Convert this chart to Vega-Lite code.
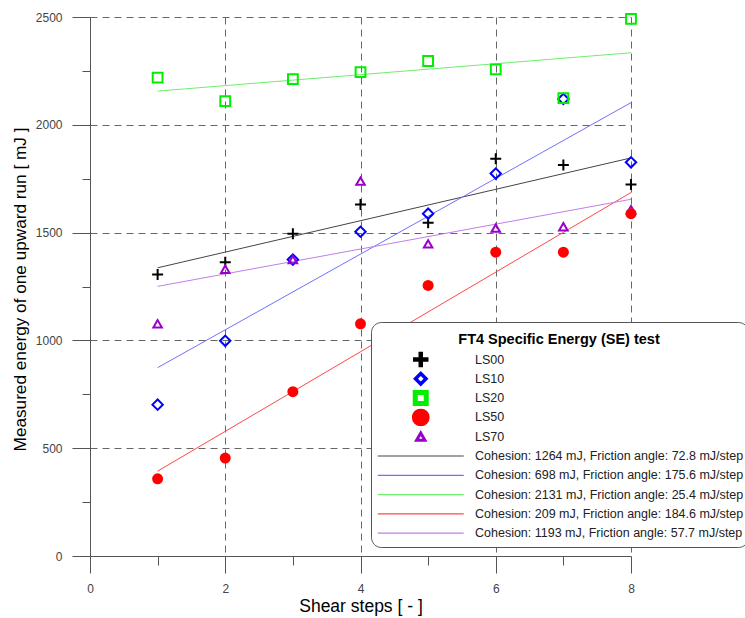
{
  "$schema": "https://vega.github.io/schema/vega-lite/v6.json",
  "width": 541,
  "height": 539,
  "autosize": {"type": "none"},
  "padding": {"left": 90, "top": 17, "right": 114, "bottom": 62},
  "background": "white",
  "config": {
    "view": {"stroke": null},
    "font": "Liberation Sans"
  },
  "datasets": {
    "points": [
      {"step": 1, "energy": 1306, "series": "LS00"},
      {"step": 2, "energy": 1363, "series": "LS00"},
      {"step": 3, "energy": 1495, "series": "LS00"},
      {"step": 4, "energy": 1630, "series": "LS00"},
      {"step": 5, "energy": 1546, "series": "LS00"},
      {"step": 6, "energy": 1843, "series": "LS00"},
      {"step": 7, "energy": 1814, "series": "LS00"},
      {"step": 8, "energy": 1723, "series": "LS00"},
      {"step": 1, "energy": 702, "series": "LS10"},
      {"step": 2, "energy": 998, "series": "LS10"},
      {"step": 3, "energy": 1375, "series": "LS10"},
      {"step": 4, "energy": 1504, "series": "LS10"},
      {"step": 5, "energy": 1588, "series": "LS10"},
      {"step": 6, "energy": 1774, "series": "LS10"},
      {"step": 7, "energy": 2120, "series": "LS10"},
      {"step": 8, "energy": 1826, "series": "LS10"},
      {"step": 1, "energy": 2219, "series": "LS20"},
      {"step": 2, "energy": 2110, "series": "LS20"},
      {"step": 3, "energy": 2212, "series": "LS20"},
      {"step": 4, "energy": 2244, "series": "LS20"},
      {"step": 5, "energy": 2296, "series": "LS20"},
      {"step": 6, "energy": 2257, "series": "LS20"},
      {"step": 7, "energy": 2124, "series": "LS20"},
      {"step": 8, "energy": 2491, "series": "LS20"},
      {"step": 1, "energy": 358, "series": "LS50"},
      {"step": 2, "energy": 454, "series": "LS50"},
      {"step": 3, "energy": 762, "series": "LS50"},
      {"step": 4, "energy": 1077, "series": "LS50"},
      {"step": 5, "energy": 1255, "series": "LS50"},
      {"step": 6, "energy": 1409, "series": "LS50"},
      {"step": 7, "energy": 1409, "series": "LS50"},
      {"step": 8, "energy": 1588, "series": "LS50"},
      {"step": 1, "energy": 1077, "series": "LS70"},
      {"step": 2, "energy": 1330, "series": "LS70"},
      {"step": 3, "energy": 1375, "series": "LS70"},
      {"step": 4, "energy": 1739, "series": "LS70"},
      {"step": 5, "energy": 1448, "series": "LS70"},
      {"step": 6, "energy": 1521, "series": "LS70"},
      {"step": 7, "energy": 1527, "series": "LS70"},
      {"step": 8, "energy": 1606, "series": "LS70"}
    ],
    "lines": [
      {"step": 1, "energy": 1336.8, "series": "Cohesion: 1264 mJ, Friction angle: 72.8 mJ/step"},
      {"step": 8, "energy": 1846.4, "series": "Cohesion: 1264 mJ, Friction angle: 72.8 mJ/step"},
      {"step": 1, "energy": 873.6, "series": "Cohesion: 698 mJ, Friction angle: 175.6 mJ/step"},
      {"step": 8, "energy": 2102.8, "series": "Cohesion: 698 mJ, Friction angle: 175.6 mJ/step"},
      {"step": 1, "energy": 2156.4, "series": "Cohesion: 2131 mJ, Friction angle: 25.4 mJ/step"},
      {"step": 8, "energy": 2334.2, "series": "Cohesion: 2131 mJ, Friction angle: 25.4 mJ/step"},
      {"step": 1, "energy": 393.6, "series": "Cohesion: 209 mJ, Friction angle: 184.6 mJ/step"},
      {"step": 8, "energy": 1685.8, "series": "Cohesion: 209 mJ, Friction angle: 184.6 mJ/step"},
      {"step": 1, "energy": 1250.7, "series": "Cohesion: 1193 mJ, Friction angle: 57.7 mJ/step"},
      {"step": 8, "energy": 1654.6, "series": "Cohesion: 1193 mJ, Friction angle: 57.7 mJ/step"}
    ]
  },
  "encoding": {
    "x": {
      "field": "step", "type": "quantitative",
      "scale": {"domain": [0, 8], "nice": false, "zero": false},
      "axis": {
        "title": "Shear steps [ - ]",
        "values": [0, 1, 2, 3, 4, 5, 6, 7, 8],
        "labelExpr": "datum.value % 2 === 0 ? datum.label : ''",
        "tickSize": {"condition": {"test": "datum.value % 2 === 0", "value": 17}, "value": 9},
        "grid": true,
        "gridDash": [7, 5],
        "gridColor": "#666666",
        "gridOpacity": {"condition": {"test": "datum.value % 2 === 0 && datum.value > 0", "value": 1}, "value": 0},
        "domainColor": "#555555",
        "tickColor": "#555555",
        "labelColor": "#444444",
        "labelFontSize": 12,
        "labelPadding": 10,
        "labelFlush": false,
        "titleFontSize": 17.5,
        "titleFontWeight": "normal",
        "titleColor": "#000000",
        "titleY": 55,
        "titleBaseline": "alphabetic"
      }
    },
    "y": {
      "field": "energy", "type": "quantitative",
      "scale": {"domain": [0, 2500], "nice": false},
      "axis": {
        "title": "Measured energy of one upward run [ mJ ]",
        "values": [0, 250, 500, 750, 1000, 1250, 1500, 1750, 2000, 2250, 2500],
        "labelExpr": "datum.value % 500 === 0 ? datum.label : ''",
        "format": "d",
        "tickSize": {"condition": {"test": "datum.value % 500 === 0", "value": 18}, "value": 8},
        "grid": true,
        "gridDash": [7, 5],
        "gridColor": "#666666",
        "gridOpacity": {"condition": {"test": "datum.value % 500 === 0 && datum.value > 0", "value": 1}, "value": 0},
        "domainColor": "#555555",
        "tickColor": "#555555",
        "labelColor": "#444444",
        "labelFontSize": 12,
        "labelPadding": 10,
        "labelFlush": false,
        "titleFontSize": 17.2,
        "titleFontWeight": "normal",
        "titleColor": "#000000",
        "titleX": -70,
        "titleY": 272,
        "titleAngle": 270,
        "titleAlign": "center",
        "titleBaseline": "middle"
      }
    }
  },
  "layer": [
    {
      "data": {"name": "lines"},
      "mark": {"type": "line", "strokeWidth": 1},
      "encoding": {
        "color": {
          "field": "series", "type": "nominal",
          "scale": {
            "domain": ["LS00", "LS10", "LS20", "LS50", "LS70",
              "Cohesion: 1264 mJ, Friction angle: 72.8 mJ/step",
              "Cohesion: 698 mJ, Friction angle: 175.6 mJ/step",
              "Cohesion: 2131 mJ, Friction angle: 25.4 mJ/step",
              "Cohesion: 209 mJ, Friction angle: 184.6 mJ/step",
              "Cohesion: 1193 mJ, Friction angle: 57.7 mJ/step"],
            "range": ["#000000", "#0000ff", "#00ee00", "#ff0000", "#9900cc",
              "#444444", "#7070ff", "#70ee70", "#ff4848", "#c07ee8"]
          },
          "legend": {
            "title": "FT4 Specific Energy (SE) test",
            "orient": "none",
            "legendX": 281,
            "legendY": 305,
            "titleFont": "Liberation Sans",
            "titleFontSize": 14.5,
            "titleFontWeight": "bold",
            "titleColor": "#000000",
            "titleAnchor": "middle",
            "titleLimit": 400,
            "titlePadding": 10,
            "labelFont": "Liberation Sans",
            "labelFontSize": 12.5,
            "labelColor": "#222222",
            "labelLimit": 400,
            "padding": 4,
            "fillColor": "#ffffff",
            "strokeColor": "#555555",
            "cornerRadius": 10,
            "symbolOffset": 39.5,
            "labelOffset": 48,
            "clipHeight": 18,
            "rowPadding": 1.3,
            "encode": {
              "title": {"update": {"dy": {"value": 7}}},
              "symbols": {
                "update": {
                  "size": {"signal": "datum.value === 'LS00' ? 240 : datum.value === 'LS10' ? 110 : datum.value === 'LS20' ? 121 : datum.value === 'LS50' ? 77 : datum.value === 'LS70' ? 70 : 7396"},
                  "strokeWidth": {"signal": "datum.value === 'LS00' ? 4.5 : datum.value === 'LS10' ? 3.5 : datum.value === 'LS20' ? 5 : datum.value === 'LS50' ? 9 : datum.value === 'LS70' ? 3 : 1.2"},
                  "fillOpacity": {"value": 0},
                  "strokeOpacity": {"value": 1},
                  "opacity": {"value": 1}
                }
              }
            }
          }
        }
      }
    },
    {
      "data": {"name": "points"},
      "transform": [{"filter": "datum.series !== 'LS50'"}],
      "mark": {"type": "point", "filled": false, "opacity": 1},
      "encoding": {
        "color": {"field": "series", "type": "nominal"},
        "shape": {
          "field": "series", "type": "nominal",
          "scale": {
            "domain": ["LS00", "LS10", "LS20", "LS50", "LS70",
              "Cohesion: 1264 mJ, Friction angle: 72.8 mJ/step",
              "Cohesion: 698 mJ, Friction angle: 175.6 mJ/step",
              "Cohesion: 2131 mJ, Friction angle: 25.4 mJ/step",
              "Cohesion: 209 mJ, Friction angle: 184.6 mJ/step",
              "Cohesion: 1193 mJ, Friction angle: 57.7 mJ/step"],
            "range": ["M-1,0H1M0,-1V1", "diamond", "square", "circle", "triangle-up",
              "stroke", "stroke", "stroke", "stroke", "stroke"]
          }
        },
        "size": {
          "field": "series", "type": "ordinal",
          "scale": {"domain": ["LS00", "LS10", "LS20", "LS50", "LS70"], "range": [120, 72, 44, 121, 64]},
          "legend": null
        },
        "strokeWidth": {
          "field": "series", "type": "ordinal",
          "scale": {"domain": ["LS00", "LS10", "LS20", "LS50", "LS70"], "range": [2, 2, 3.5, 0.5, 2]},
          "legend": null
        }
      }
    },
    {
      "data": {"name": "points"},
      "transform": [{"filter": "datum.series === 'LS50'"}],
      "mark": {"type": "point", "filled": true, "opacity": 1, "size": 121},
      "encoding": {
        "color": {"field": "series", "type": "nominal"},
        "shape": {"field": "series", "type": "nominal"}
      }
    }
  ]
}
